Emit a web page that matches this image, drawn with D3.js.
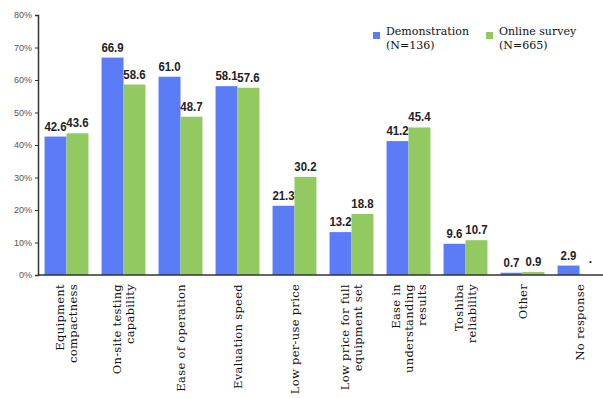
<!DOCTYPE html>
<html><head><meta charset="utf-8">
<script src="https://cdn.jsdelivr.net/npm/d3@7"></script>
<style>body{margin:0;background:#fff}svg{display:block}</style>
</head><body><svg id="c" width="603" height="398"></svg>
<script>
const categories = [
  ["Equipment","compactness"],
  ["On-site testing","capability"],
  ["Ease of operation"],
  ["Evaluation speed"],
  ["Low per-use price"],
  ["Low price for full","equipment set"],
  ["Ease in","understanding","results"],
  ["Toshiba","reliability"],
  ["Other"],
  ["No response"]
];
const demonstration = [42.6, 66.9, 61.0, 58.1, 21.3, 13.2, 41.2, 9.6, 0.7, 2.9];
const onlineSurvey  = [43.6, 58.6, 48.7, 57.6, 30.2, 18.8, 45.4, 10.7, 0.9, null];
const seriesNames = [["Demonstration","(N=136)"],["Online survey","(N=665)"]];
const yTicks = [0,10,20,30,40,50,60,70,80];
const colors = ["#5b7cf6","#92c961"];

const svg = d3.select("#c");
const keys = categories.map((d,i)=>i);
const x = d3.scaleBand().domain(keys).range([38,608]).paddingInner(0.23).paddingOuter(0.115);
const xs = d3.scaleBand().domain([0,1]).range([0,x.bandwidth()]);
const y = d3.scaleLinear().domain([0,80]).range([275,15]);

// bars
const series = [demonstration, onlineSurvey];
series.forEach((vals,s)=>{
  const g = svg.append("g");
  vals.forEach((v,i)=>{
    if(v==null) return;
    g.append("rect").attr("x", x(i)+xs(s)).attr("width", xs.bandwidth())
     .attr("y", y(v)).attr("height", y(0)-y(v)).attr("fill", colors[s]);
    const cx = x(i)+xs(s)+xs.bandwidth()/2;
    g.append("text").attr("transform",`translate(${cx},${y(v)-6}) scale(0.88,1)`)
     .attr("text-anchor","middle").attr("font-family","Liberation Sans, Arial")
     .attr("font-weight","bold").attr("font-size",13).attr("fill","#222").text(v.toFixed(1));
  });
});
// stray dot
svg.append("text").attr("x", x(9)+xs(1)+xs.bandwidth()/2).attr("y", y(0)-12)
  .attr("text-anchor","middle")
  .attr("font-family","Liberation Sans").attr("font-size",12).attr("font-weight","bold").attr("fill","#222").text(".");

// y axis
const ya = svg.append("g").attr("transform","translate(38,0)")
  .call(d3.axisLeft(y).tickValues(yTicks).tickFormat(d=>d+"%").tickSize(3).tickPadding(3));
ya.select(".domain").attr("stroke","#333").attr("stroke-width",1.5);
ya.selectAll(".tick line").attr("stroke","#333");
ya.selectAll(".tick text").attr("font-family","Liberation Sans, Arial")
  .attr("font-size",9).attr("fill","#555");

// x axis
svg.append("line").attr("x1",38).attr("x2",603).attr("y1",y(0)).attr("y2",y(0))
  .attr("stroke","#333").attr("stroke-width",1.5);

// category labels
categories.forEach((lines,i)=>{
  const cx = x(i)+x.bandwidth()/2;
  const n = lines.length, lh = 13;
  lines.forEach((t,j)=>{
    const xx = cx + (j-(n-1)/2)*lh + 4;
    svg.append("text").attr("transform",`translate(${xx},284) rotate(-90)`)
      .attr("text-anchor","end").attr("font-family","DejaVu Serif, Liberation Serif, serif")
      .attr("font-size",11.5).attr("letter-spacing",0.3).attr("fill","#111").text(t);
  });
});

// legend
const lx = [373, 486];
seriesNames.forEach((nm,s)=>{
  svg.append("rect").attr("x",lx[s]).attr("y",32).attr("width",7).attr("height",7).attr("fill",colors[s]);
  nm.forEach((t,j)=>{
    svg.append("text").attr("x",lx[s]+13).attr("y",35+j*14)
      .attr("font-family","DejaVu Serif, Liberation Serif, serif").attr("font-size",11)
      .attr("fill","#111").text(t);
  });
});
</script></body></html>
